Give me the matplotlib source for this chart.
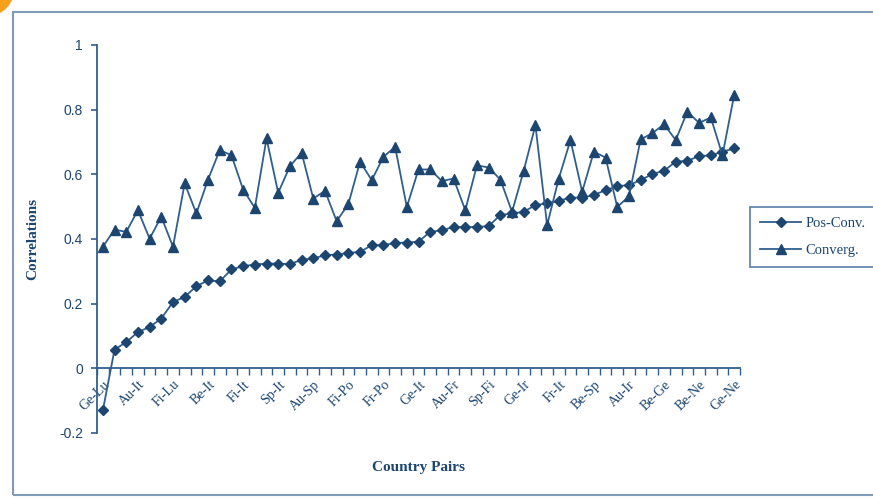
import numpy as np
import matplotlib
matplotlib.use("Agg")
import matplotlib.pyplot as plt
from matplotlib.patches import Rectangle, Ellipse

# Correlations per country pair (55 pairs)
pos_conv = [-0.13, 0.058, 0.081, 0.112, 0.128, 0.154, 0.205, 0.221, 0.254, 0.272,
            0.269, 0.306, 0.316, 0.321, 0.324, 0.324, 0.322, 0.336, 0.340, 0.350,
            0.352, 0.357, 0.360, 0.381, 0.381, 0.388, 0.389, 0.392, 0.422, 0.427,
            0.437, 0.437, 0.437, 0.440, 0.474, 0.479, 0.484, 0.505, 0.510, 0.518,
            0.528, 0.528, 0.536, 0.551, 0.563, 0.567, 0.582, 0.601, 0.611, 0.639,
            0.642, 0.656, 0.659, 0.670, 0.680]
converg = [0.376, 0.429, 0.422, 0.489, 0.401, 0.469, 0.376, 0.572, 0.479, 0.584,
           0.675, 0.659, 0.553, 0.496, 0.711, 0.543, 0.625, 0.667, 0.525, 0.549,
           0.455, 0.508, 0.639, 0.582, 0.654, 0.685, 0.499, 0.615, 0.615, 0.579,
           0.587, 0.489, 0.628, 0.621, 0.584, 0.484, 0.611, 0.752, 0.443, 0.587,
           0.706, 0.546, 0.670, 0.652, 0.499, 0.532, 0.708, 0.727, 0.755, 0.706,
           0.794, 0.759, 0.776, 0.659, 0.845]
# only every third pair is labelled on the axis
pair_labels = ["Ge-Lu", "Au-It", "Fi-Lu", "Be-It", "Fi-It", "Sp-It", "Au-Sp",
               "Fi-Po", "Fr-Po", "Ge-It", "Au-Fr", "Sp-Fi", "Ge-Ir", "Fr-It",
               "Be-Sp", "Au-Ir", "Be-Ge", "Be-Ne", "Ge-Ne"]
y_ticks = [-0.2, 0, 0.2, 0.4, 0.6, 0.8, 1]

NAVY = "#1c4670"
LINE = "#2f5f8e"
SERIF = "Liberation Serif"
SANS = "Liberation Sans"

fig = plt.figure(figsize=(8.73, 5), dpi=100)
ax = fig.add_axes([97 / 873, 67 / 500, 643 / 873, 388 / 500])

x = np.arange(len(pos_conv))
l1, = ax.plot(x, pos_conv, color=LINE, lw=1.3, marker="D", ms=5,
              mfc=NAVY, mec=NAVY, label="Pos-Conv.")
l2, = ax.plot(x, converg, color=LINE, lw=1.3, marker="^", ms=7,
              mfc=NAVY, mec=NAVY, label="Converg.")

ax.set_xlim(-0.5, len(pos_conv) - 0.5)
ax.set_ylim(-0.2, 1)

# axis styling, x axis crosses at zero
for s in ["top", "right"]:
    ax.spines[s].set_visible(False)
ax.spines["bottom"].set_position(("data", 0))
for s in ["bottom", "left"]:
    ax.spines[s].set_color(LINE)
    ax.spines[s].set_linewidth(1.3)

ax.set_yticks(y_ticks)
ax.set_yticklabels(["-0.2", "0", "0.2", "0.4", "0.6", "0.8", "1"],
                   family=SANS, fontsize=10, color=NAVY)
ax.tick_params(axis="y", direction="out", length=4, color=LINE, width=1.2, pad=6)

ax.set_xticks(x[::3])
ax.set_xticklabels(pair_labels, rotation=45, ha="right", rotation_mode="anchor",
                   family=SERIF, fontsize=10, color=NAVY)
ax.set_xticks(np.arange(-0.5, len(pos_conv), 1), minor=True)
ax.tick_params(axis="x", which="major", length=0, pad=7)
ax.tick_params(axis="x", which="minor", direction="out", length=5,
               color=LINE, width=1.0)

ax.set_ylabel("Correlations", family=SERIF, fontweight="bold", fontsize=11,
              color=NAVY, labelpad=14)
fig.text(418 / 873, 1 - 467 / 500, "Country Pairs", family=SERIF,
         fontweight="bold", fontsize=11, color=NAVY, ha="center", va="center")

leg = fig.legend(handles=[l1, l2], loc="upper left",
                 bbox_to_anchor=(750 / 873, 1 - 207 / 500), borderaxespad=0,
                 frameon=True, fancybox=False, handlelength=2.8,
                 handletextpad=0.3, borderpad=0.7,
                 prop={"family": SERIF, "size": 10.5}, labelspacing=0.9)
leg.get_frame().set_edgecolor(LINE)
leg.get_frame().set_linewidth(1.2)
for t in leg.get_texts():
    t.set_color(NAVY)

# outer chart frame and corner decoration
fig.patches.append(Rectangle((13 / 873, 5 / 500), 1.0, 483 / 500,
                             transform=fig.transFigure, fill=False,
                             edgecolor="#7f9bb8", lw=1.5))
fig.patches.append(Ellipse((-14 / 873, 1 + 12 / 500), 56 / 873, 56 / 500,
                           transform=fig.transFigure, color="#f5a11c"))

fig.savefig("out.png", dpi=100)
